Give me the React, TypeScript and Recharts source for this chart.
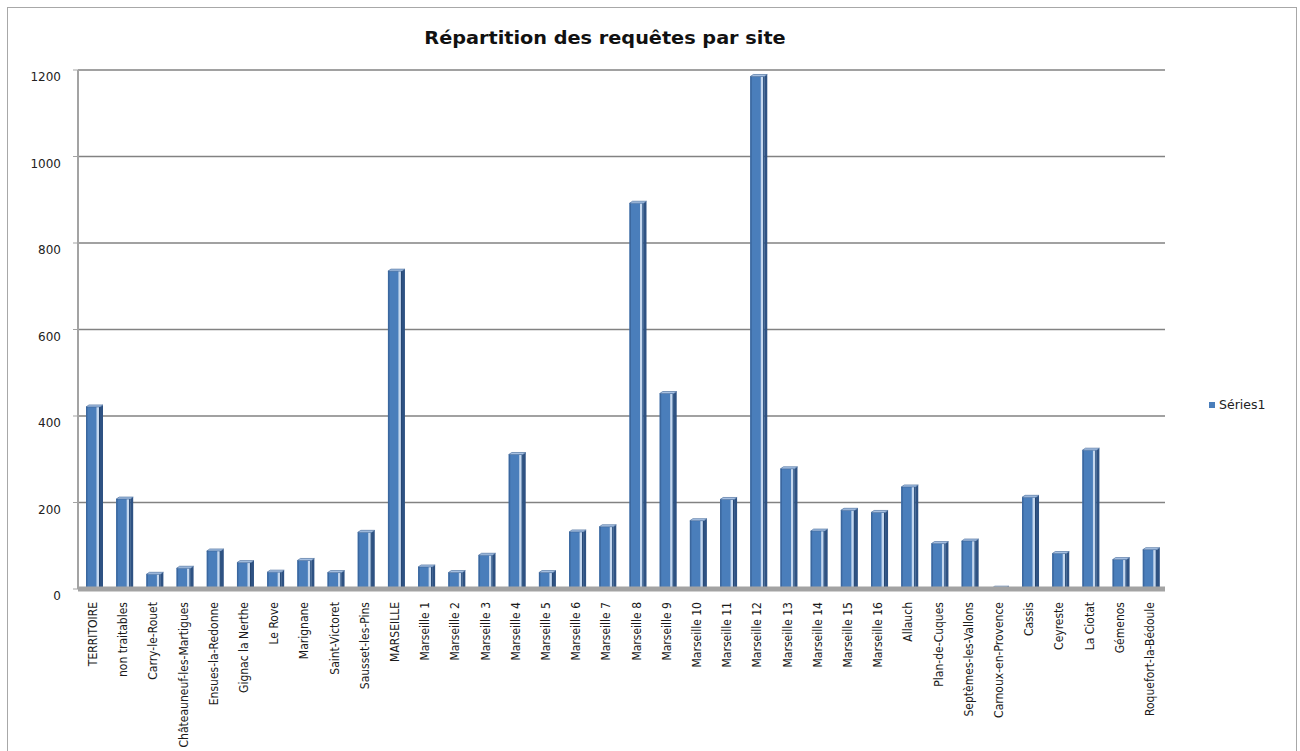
import { BarChart, Bar, XAxis, YAxis, CartesianGrid, Legend } from 'recharts';

// Nombre de requêtes reçues par site
const sites = [
  'TERRITOIRE',
  'non traitables',
  'Carry-le-Rouet',
  'Châteauneuf-les-Martigues',
  'Ensues-la-Redonne',
  'Gignac la Nerthe',
  'Le Rove',
  'Marignane',
  'Saint-Victoret',
  'Sausset-les-Pins',
  'MARSEILLE',
  'Marseille 1',
  'Marseille 2',
  'Marseille 3',
  'Marseille 4',
  'Marseille 5',
  'Marseille 6',
  'Marseille 7',
  'Marseille 8',
  'Marseille 9',
  'Marseille 10',
  'Marseille 11',
  'Marseille 12',
  'Marseille 13',
  'Marseille 14',
  'Marseille 15',
  'Marseille 16',
  'Allauch',
  'Plan-de-Cuques',
  'Septèmes-les-Vallons',
  'Carnoux-en-Provence',
  'Cassis',
  'Ceyreste',
  'La Ciotat',
  'Gémenos',
  'Roquefort-la-Bédoule',
];

const series1 = [
  421, 208, 34, 48, 88, 61, 39, 66, 38, 131,
  735, 51, 38, 78, 311, 38, 132, 144, 892, 452,
  158, 207, 1185, 278, 134, 182, 177, 236, 105, 111,
  2, 212, 82, 321, 68, 91,
];

const yTicks = [0, 200, 400, 600, 800, 1000, 1200];

const data = sites.map((site, i) => ({ site, value: series1[i] }));

const BLUE = '#4a7ebb';

// colonne "3D" : face avant, flanc droit et dessus
const Column3D = (props: any) => {
  const { x, y, width, height } = props;
  const d = 3;
  const h = Math.max(height, 0);
  return (
    <g>
      <polygon
        points={`${x + width},${y} ${x + width + d},${y - 2} ${x + width + d},${y + h - 2} ${x + width},${y + h}`}
        fill="#2e5283"
      />
      <rect x={x} y={y} width={width} height={h} fill={BLUE} />
      <rect x={x} y={y} width={1.5} height={h} fill="#3b679e" />
      <rect x={x + width - 3.5} y={y} width={2.5} height={h} fill="#c4d7ee" />
      <rect x={x + width - 1} y={y} width={1} height={h} fill="#24446e" />
      <polygon
        points={`${x},${y} ${x + width},${y} ${x + width + d},${y - 2} ${x + d},${y - 2}`}
        fill="#a9c3e4"
        stroke="#3a6293"
        strokeWidth={0.6}
      />
    </g>
  );
};

const SiteTick = ({ x, y, payload }: any) => (
  <text
    x={x}
    y={y}
    transform={`rotate(-90, ${x}, ${y})`}
    textAnchor="end"
    dominantBaseline="central"
    fontSize={12}
    fontFamily="'Liberation Sans Narrow', 'DejaVu Sans Condensed', sans-serif"
    fill="#1a1a1a"
  >
    {payload.value}
  </text>
);

const ValueTick = ({ x, y, payload }: any) => (
  <text
    x={x}
    y={y + 7}
    textAnchor="end"
    dominantBaseline="central"
    fontSize={12}
    fontFamily="'DejaVu Sans', sans-serif"
    fill="#222"
  >
    {payload.value}
  </text>
);

const SeriesLegend = () => (
  <div style={{ display: 'flex', alignItems: 'center', fontFamily: "'DejaVu Sans', sans-serif", fontSize: 12.5, color: '#222' }}>
    <span style={{ display: 'inline-block', width: 6, height: 6, background: BLUE, marginRight: 4 }} />
    Séries1
  </div>
);

export default function App() {
  return (
    <div style={{ position: 'absolute', left: 0, top: 0, width: 1300, height: 751, background: '#fff', overflow: 'hidden' }}>
      <div
        style={{
          position: 'absolute',
          left: 7,
          top: 7,
          width: 1288,
          height: 760,
          border: '1px solid #a8a8a8',
        }}
      />
      <div
        style={{
          position: 'absolute',
          left: 405,
          top: 27,
          width: 400,
          textAlign: 'center',
          fontFamily: "'DejaVu Sans', sans-serif",
          fontWeight: 'bold',
          fontSize: 18,
          color: '#111',
          transform: 'scaleX(1.07)',
        }}
      >
        Répartition des requêtes par site
      </div>
      <BarChart
        width={1300}
        height={751}
        data={data}
        margin={{ top: 70, right: 135, bottom: 0, left: 18 }}
        barSize={14}
      >
        <CartesianGrid vertical={false} stroke="#828282" strokeWidth={1.3} />
        <XAxis
          dataKey="site"
          interval={0}
          height={162}
          tick={<SiteTick />}
          tickLine={false}
          tickSize={0}
          tickMargin={13}
          axisLine={{ stroke: '#a3a3a3', strokeWidth: 5 }}
        />
        <YAxis
          width={60}
          domain={[0, 1200]}
          ticks={yTicks}
          tick={<ValueTick />}
          tickLine={{ stroke: '#a3a3a3' }}
          tickSize={5}
          tickMargin={12}
          axisLine={{ stroke: '#a3a3a3', strokeWidth: 2 }}
        />
        <Legend
          layout="vertical"
          align="center"
          verticalAlign="middle"
          content={<SeriesLegend />}
          wrapperStyle={{ position: 'absolute', left: 1209, top: 397, width: 80, height: 16 }}
        />
        <Bar dataKey="value" name="Séries1" fill={BLUE} shape={<Column3D />} isAnimationActive={false} />
      </BarChart>
    </div>
  );
}
